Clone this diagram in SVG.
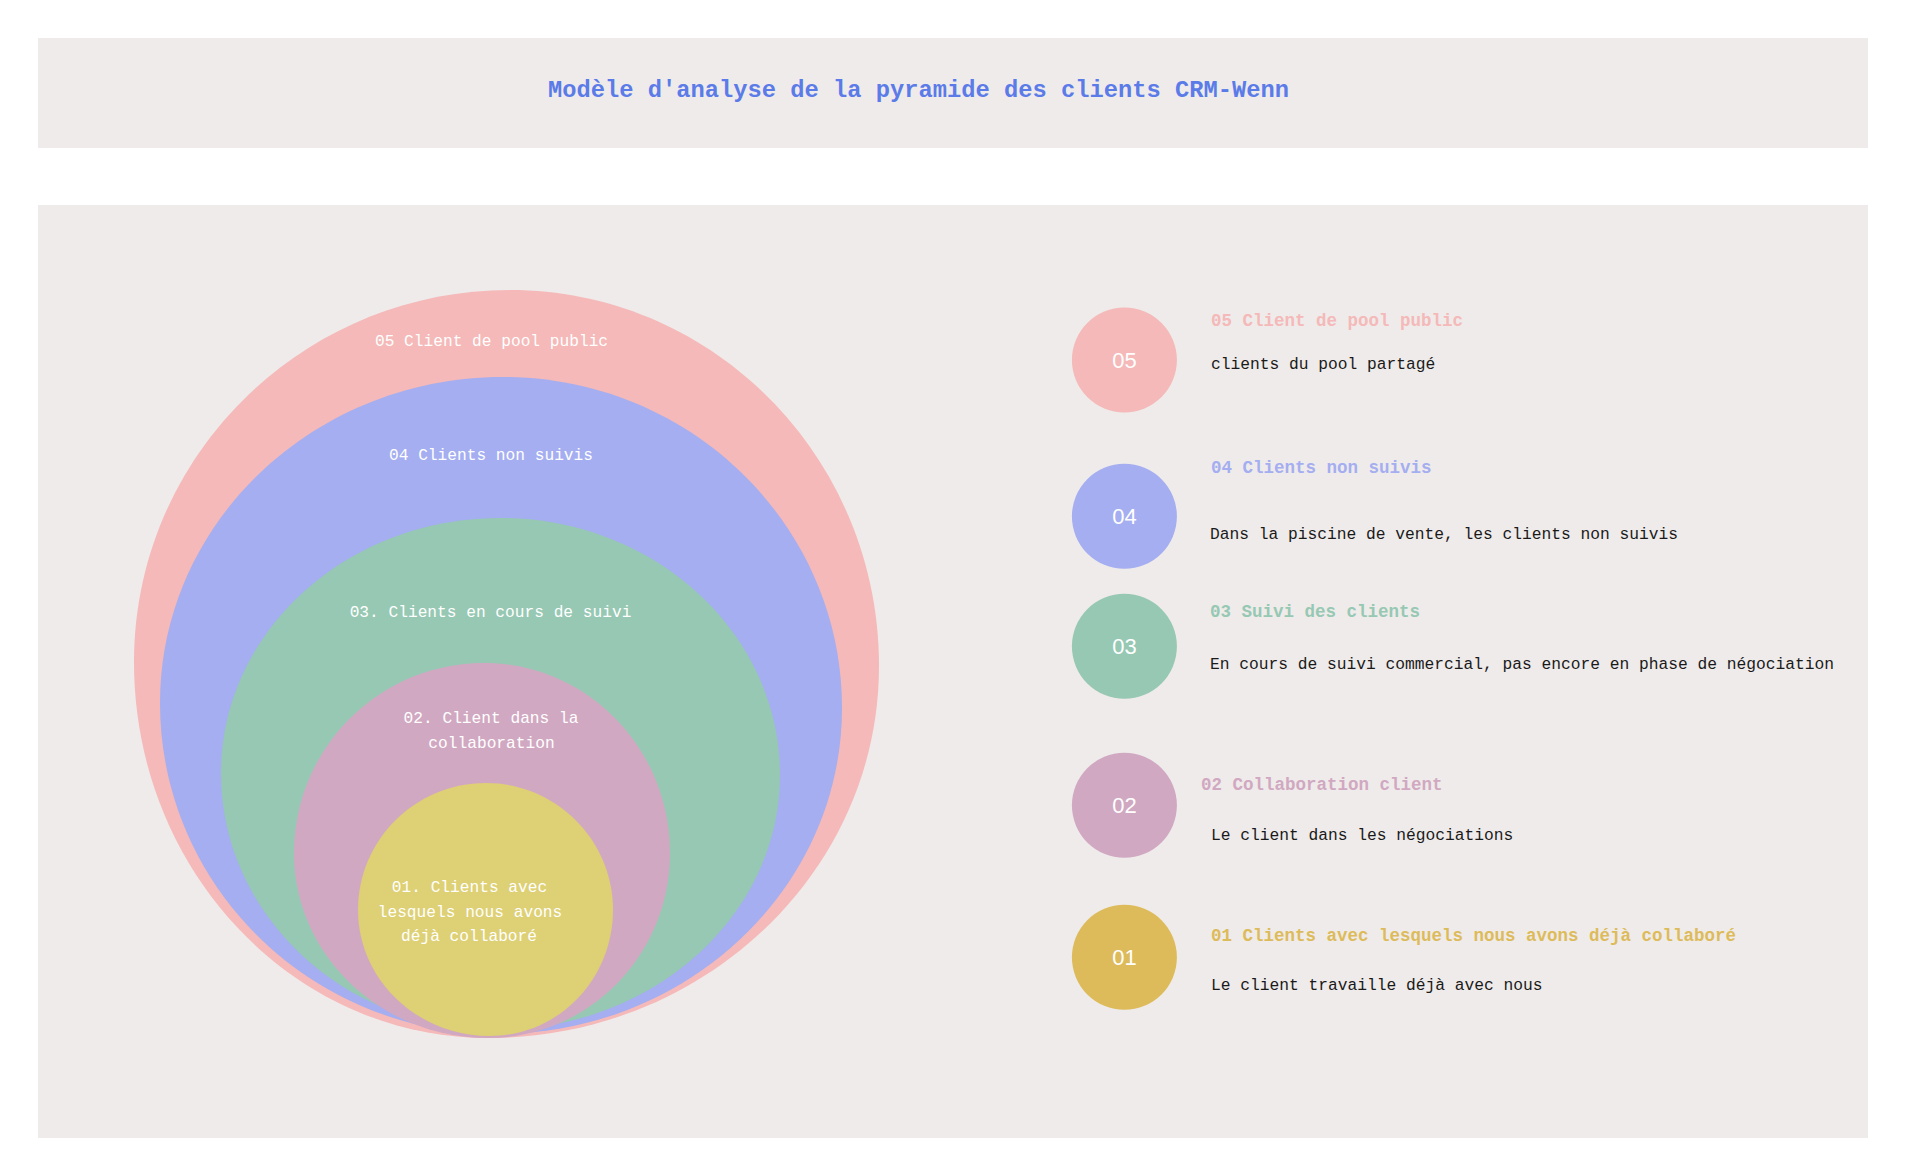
<svg xmlns="http://www.w3.org/2000/svg" width="1906" height="1175" viewBox="0 0 1906 1175">
<style>
.panel{fill:#EFEBEA}
.lbl{font-family:"Liberation Mono","DejaVu Sans Mono",monospace;font-size:16.2px;fill:#FFFFFF;text-anchor:middle}
.num{font-family:"Liberation Sans",Arial,sans-serif;font-size:22px;fill:#FFFFFF;text-anchor:middle}
.ttl{font-family:"Liberation Mono","DejaVu Sans Mono",monospace;font-size:17.5px;font-weight:bold}
.dsc{font-family:"Liberation Mono","DejaVu Sans Mono",monospace;font-size:16.25px;fill:#1A1A1A}
</style>
<rect x="0" y="0" width="1906" height="1175" fill="#FFFFFF"/>
<g id="title">
<rect class="panel" x="38" y="38" width="1830" height="110"/>
<text x="548" y="97" font-family="'Liberation Mono','DejaVu Sans Mono',monospace" font-size="23.75" font-weight="bold" fill="#5B7BE8">Modèle d'analyse de la pyramide des clients CRM-Wenn</text>
</g>
<rect class="panel" x="38" y="205" width="1830" height="933"/>
<g id="connectors"/>
<g id="ring-05">
<path fill="#F4B9B8" d="M510,290 C713.8,290 879,458.3 879,666 C879,871.5 704,1038 488,1038 C292.5,1038 134,869.7 134,662 C134,456.5 302.3,290 510,290 Z"/>
<text class="lbl" x="491.5" y="346">05 Client de pool public</text>
</g>
<g id="ring-04">
<path fill="#A4AEF0" d="M503,377 C690.2,377 842,525.2 842,708 C842,888 687.5,1034 497,1034 C310.9,1034 160,885.8 160,703 C160,523 313.6,377 503,377 Z"/>
<text class="lbl" x="491" y="460">04 Clients non suivis</text>
</g>
<g id="ring-03">
<path fill="#96C8B3" d="M500,518 C654.6,518 780,633.1 780,775 C780,915.8 652.4,1030 495,1030 C343.7,1030 221,914.9 221,773 C221,632.2 345.9,518 500,518 Z"/>
<text class="lbl" x="490.5" y="617">03. Clients en cours de suivi</text>
</g>
<g id="ring-02">
<path fill="#D1A8C1" d="M484,663 C586.7,663 670,748.1 670,853 C670,955.2 588.5,1038 488,1038 C380.9,1038 294,955.2 294,853 C294,748.1 379.1,663 484,663 Z"/>
<text class="lbl" x="491" y="723">02. Client dans la</text>
<text class="lbl" x="491.5" y="748">collaboration</text>
</g>
<g id="ring-01">
<path fill="#DED074" d="M486,783 C556.1,783 613,839.9 613,910 C613,979.6 557.9,1036 490,1036 C417.1,1036 358,979.6 358,910 C358,839.9 415.3,783 486,783 Z"/>
<text class="lbl" x="469.5" y="892">01. Clients avec</text>
<text class="lbl" x="470" y="916.5">lesquels nous avons</text>
<text class="lbl" x="469" y="941">déjà collaboré</text>
</g>
<g id="legend-05">
<circle cx="1124.4" cy="360" r="52.5" fill="#F4B9B8"/>
<text class="num" x="1124.4" y="368">05</text>
<text class="ttl" x="1211" y="326" fill="#F4B9B8">05 Client de pool public</text>
<text class="dsc" x="1211" y="368.5">clients du pool partagé</text>
</g>
<g id="legend-04">
<circle cx="1124.4" cy="516.3" r="52.5" fill="#A4AEF0"/>
<text class="num" x="1124.4" y="524">04</text>
<text class="ttl" x="1211" y="473" fill="#A4AEF0">04 Clients non suivis</text>
<text class="dsc" x="1210" y="539">Dans la piscine de vente, les clients non suivis</text>
</g>
<g id="legend-03">
<circle cx="1124.4" cy="646.3" r="52.5" fill="#96C8B3"/>
<text class="num" x="1124.4" y="654">03</text>
<text class="ttl" x="1210" y="616.5" fill="#96C8B3">03 Suivi des clients</text>
<text class="dsc" x="1210" y="669">En cours de suivi commercial, pas encore en phase de négociation</text>
</g>
<g id="legend-02">
<circle cx="1124.4" cy="805.3" r="52.5" fill="#D1A8C1"/>
<text class="num" x="1124.4" y="813">02</text>
<text class="ttl" x="1201" y="790" fill="#D1A8C1">02 Collaboration client</text>
<text class="dsc" x="1211" y="840">Le client dans les négociations</text>
</g>
<g id="legend-01">
<circle cx="1124.4" cy="957.3" r="52.5" fill="#DDBB5A"/>
<text class="num" x="1124.4" y="965">01</text>
<text class="ttl" x="1211" y="940.5" fill="#DDBB5A">01 Clients avec lesquels nous avons déjà collaboré</text>
<text class="dsc" x="1211" y="990">Le client travaille déjà avec nous</text>
</g>
</svg>
